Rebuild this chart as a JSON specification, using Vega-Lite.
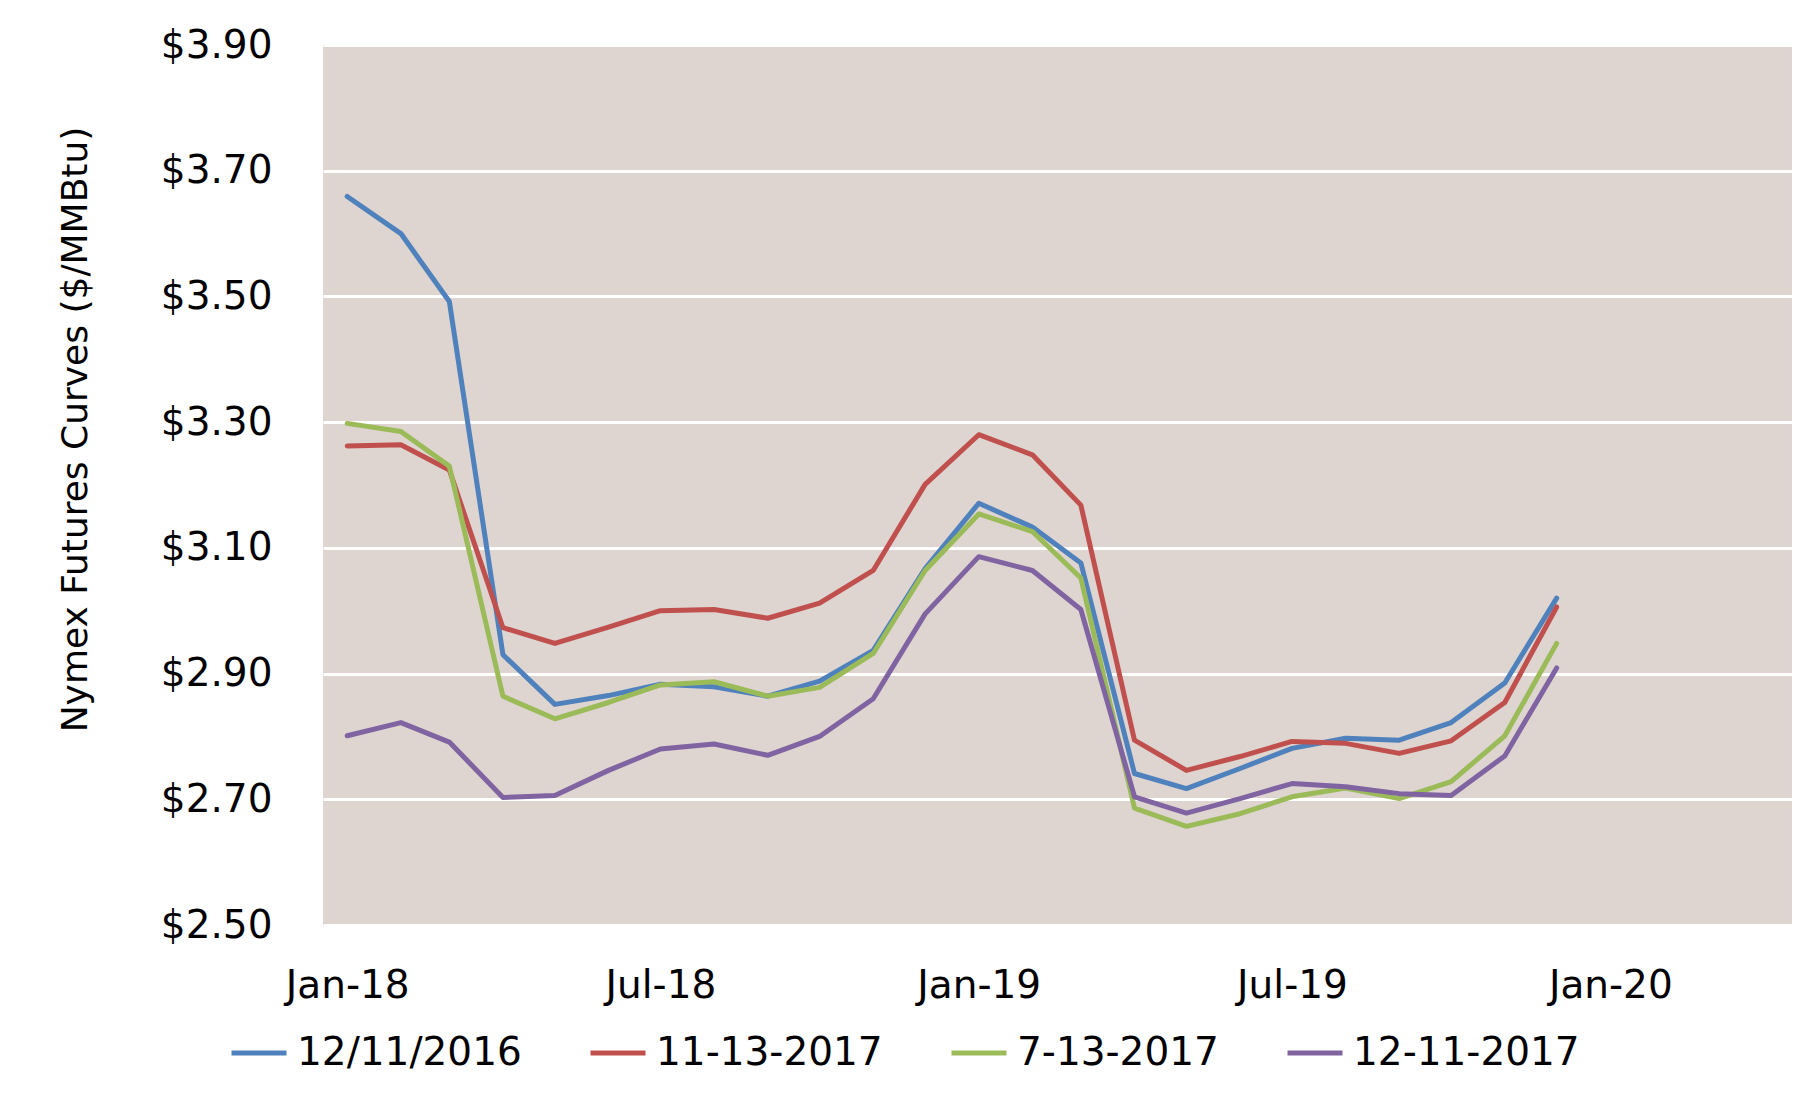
{
  "$schema": "https://vega.github.io/schema/vega-lite/v6.json",
  "width": 1469,
  "height": 880,
  "autosize": "none",
  "padding": {"left": 323, "top": 45, "right": 22, "bottom": 168},
  "background": "white",
  "config": {
    "view": {"stroke": null, "fill": "#DED4D0"},
    "font": "DejaVu Sans",
    "axis": {"labelFont": "DejaVu Sans", "titleFont": "DejaVu Sans", "labelColor": "black", "titleColor": "black"},
    "legend": {"labelFont": "DejaVu Sans", "labelColor": "black"}
  },
  "data": {"values": [
    {"date":"2018-01-01","series":"12/11/2016","price":3.659},
    {"date":"2018-02-01","series":"12/11/2016","price":3.600},
    {"date":"2018-03-01","series":"12/11/2016","price":3.492},
    {"date":"2018-04-01","series":"12/11/2016","price":2.930},
    {"date":"2018-05-01","series":"12/11/2016","price":2.851},
    {"date":"2018-06-01","series":"12/11/2016","price":2.865},
    {"date":"2018-07-01","series":"12/11/2016","price":2.883},
    {"date":"2018-08-01","series":"12/11/2016","price":2.879},
    {"date":"2018-09-01","series":"12/11/2016","price":2.864},
    {"date":"2018-10-01","series":"12/11/2016","price":2.888},
    {"date":"2018-11-01","series":"12/11/2016","price":2.937},
    {"date":"2018-12-01","series":"12/11/2016","price":3.067},
    {"date":"2019-01-01","series":"12/11/2016","price":3.171},
    {"date":"2019-02-01","series":"12/11/2016","price":3.133},
    {"date":"2019-03-01","series":"12/11/2016","price":3.076},
    {"date":"2019-04-01","series":"12/11/2016","price":2.741},
    {"date":"2019-05-01","series":"12/11/2016","price":2.717},
    {"date":"2019-06-01","series":"12/11/2016","price":2.749},
    {"date":"2019-07-01","series":"12/11/2016","price":2.781},
    {"date":"2019-08-01","series":"12/11/2016","price":2.797},
    {"date":"2019-09-01","series":"12/11/2016","price":2.794},
    {"date":"2019-10-01","series":"12/11/2016","price":2.822},
    {"date":"2019-11-01","series":"12/11/2016","price":2.885},
    {"date":"2019-12-01","series":"12/11/2016","price":3.020},
    {"date":"2018-01-01","series":"11-13-2017","price":3.262},
    {"date":"2018-02-01","series":"11-13-2017","price":3.264},
    {"date":"2018-03-01","series":"11-13-2017","price":3.224},
    {"date":"2018-04-01","series":"11-13-2017","price":2.973},
    {"date":"2018-05-01","series":"11-13-2017","price":2.948},
    {"date":"2018-06-01","series":"11-13-2017","price":2.974},
    {"date":"2018-07-01","series":"11-13-2017","price":3.000},
    {"date":"2018-08-01","series":"11-13-2017","price":3.002},
    {"date":"2018-09-01","series":"11-13-2017","price":2.988},
    {"date":"2018-10-01","series":"11-13-2017","price":3.012},
    {"date":"2018-11-01","series":"11-13-2017","price":3.064},
    {"date":"2018-12-01","series":"11-13-2017","price":3.201},
    {"date":"2019-01-01","series":"11-13-2017","price":3.280},
    {"date":"2019-02-01","series":"11-13-2017","price":3.248},
    {"date":"2019-03-01","series":"11-13-2017","price":3.168},
    {"date":"2019-04-01","series":"11-13-2017","price":2.794},
    {"date":"2019-05-01","series":"11-13-2017","price":2.746},
    {"date":"2019-06-01","series":"11-13-2017","price":2.768},
    {"date":"2019-07-01","series":"11-13-2017","price":2.792},
    {"date":"2019-08-01","series":"11-13-2017","price":2.789},
    {"date":"2019-09-01","series":"11-13-2017","price":2.773},
    {"date":"2019-10-01","series":"11-13-2017","price":2.793},
    {"date":"2019-11-01","series":"11-13-2017","price":2.854},
    {"date":"2019-12-01","series":"11-13-2017","price":3.006},
    {"date":"2018-01-01","series":"7-13-2017","price":3.298},
    {"date":"2018-02-01","series":"7-13-2017","price":3.285},
    {"date":"2018-03-01","series":"7-13-2017","price":3.230},
    {"date":"2018-04-01","series":"7-13-2017","price":2.864},
    {"date":"2018-05-01","series":"7-13-2017","price":2.828},
    {"date":"2018-06-01","series":"7-13-2017","price":2.854},
    {"date":"2018-07-01","series":"7-13-2017","price":2.882},
    {"date":"2018-08-01","series":"7-13-2017","price":2.887},
    {"date":"2018-09-01","series":"7-13-2017","price":2.864},
    {"date":"2018-10-01","series":"7-13-2017","price":2.878},
    {"date":"2018-11-01","series":"7-13-2017","price":2.932},
    {"date":"2018-12-01","series":"7-13-2017","price":3.064},
    {"date":"2019-01-01","series":"7-13-2017","price":3.154},
    {"date":"2019-02-01","series":"7-13-2017","price":3.126},
    {"date":"2019-03-01","series":"7-13-2017","price":3.052},
    {"date":"2019-04-01","series":"7-13-2017","price":2.686},
    {"date":"2019-05-01","series":"7-13-2017","price":2.657},
    {"date":"2019-06-01","series":"7-13-2017","price":2.677},
    {"date":"2019-07-01","series":"7-13-2017","price":2.704},
    {"date":"2019-08-01","series":"7-13-2017","price":2.718},
    {"date":"2019-09-01","series":"7-13-2017","price":2.701},
    {"date":"2019-10-01","series":"7-13-2017","price":2.728},
    {"date":"2019-11-01","series":"7-13-2017","price":2.801},
    {"date":"2019-12-01","series":"7-13-2017","price":2.948},
    {"date":"2018-01-01","series":"12-11-2017","price":2.801},
    {"date":"2018-02-01","series":"12-11-2017","price":2.822},
    {"date":"2018-03-01","series":"12-11-2017","price":2.791},
    {"date":"2018-04-01","series":"12-11-2017","price":2.703},
    {"date":"2018-05-01","series":"12-11-2017","price":2.706},
    {"date":"2018-06-01","series":"12-11-2017","price":2.746},
    {"date":"2018-07-01","series":"12-11-2017","price":2.780},
    {"date":"2018-08-01","series":"12-11-2017","price":2.788},
    {"date":"2018-09-01","series":"12-11-2017","price":2.770},
    {"date":"2018-10-01","series":"12-11-2017","price":2.800},
    {"date":"2018-11-01","series":"12-11-2017","price":2.860},
    {"date":"2018-12-01","series":"12-11-2017","price":2.995},
    {"date":"2019-01-01","series":"12-11-2017","price":3.086},
    {"date":"2019-02-01","series":"12-11-2017","price":3.064},
    {"date":"2019-03-01","series":"12-11-2017","price":3.002},
    {"date":"2019-04-01","series":"12-11-2017","price":2.704},
    {"date":"2019-05-01","series":"12-11-2017","price":2.678},
    {"date":"2019-06-01","series":"12-11-2017","price":2.701},
    {"date":"2019-07-01","series":"12-11-2017","price":2.725},
    {"date":"2019-08-01","series":"12-11-2017","price":2.720},
    {"date":"2019-09-01","series":"12-11-2017","price":2.709},
    {"date":"2019-10-01","series":"12-11-2017","price":2.706},
    {"date":"2019-11-01","series":"12-11-2017","price":2.769},
    {"date":"2019-12-01","series":"12-11-2017","price":2.909}
  ]},
  "mark": {"type": "line", "strokeWidth": 5, "strokeJoin": "round", "strokeCap": "round"},
  "encoding": {
    "x": {
      "field": "date",
      "type": "temporal",
      "scale": {
        "type": "utc",
        "domain": [
          {"year": 2017, "month": 12, "date": 18, "utc": true},
          {"year": 2020, "month": 4, "date": 15, "utc": true}
        ]
      },
      "axis": {
        "title": null,
        "grid": false,
        "domain": false,
        "ticks": false,
        "tickSize": 0,
        "values": [
          {"year": 2018, "month": 1, "date": 1, "utc": true},
          {"year": 2018, "month": 7, "date": 1, "utc": true},
          {"year": 2019, "month": 1, "date": 1, "utc": true},
          {"year": 2019, "month": 7, "date": 1, "utc": true},
          {"year": 2020, "month": 1, "date": 1, "utc": true}
        ],
        "format": "%b-%y",
        "labelFontSize": 39,
        "labelPadding": 41,
        "labelFlush": false,
        "labelOverlap": false
      }
    },
    "y": {
      "field": "price",
      "type": "quantitative",
      "scale": {"domain": [2.5, 3.9], "nice": false, "zero": false},
      "axis": {
        "title": "Nymex Futures Curves ($/MMBtu)",
        "titleFontSize": 36,
        "titleFontWeight": "normal",
        "titleAngle": -90,
        "titleAlign": "center",
        "titleBaseline": "middle",
        "titleX": -248,
        "titleY": 384,
        "values": [2.5, 2.7, 2.9, 3.1, 3.3, 3.5, 3.7, 3.9],
        "format": "$.2f",
        "grid": true,
        "gridColor": "white",
        "gridWidth": 3,
        "gridOpacity": 1,
        "domain": false,
        "ticks": false,
        "tickSize": 0,
        "labelFontSize": 39,
        "labelPadding": 51,
        "labelFlush": false,
        "labelOverlap": false
      }
    },
    "color": {
      "field": "series",
      "type": "nominal",
      "scale": {
        "domain": ["12/11/2016", "11-13-2017", "7-13-2017", "12-11-2017"],
        "range": ["#4F81BD", "#C0504D", "#9BBB59", "#8064A2"]
      },
      "legend": {
        "title": null,
        "orient": "none",
        "direction": "horizontal",
        "legendX": -94,
        "legendY": 978,
        "symbolType": "stroke",
        "symbolSize": 3025,
        "symbolStrokeWidth": 5,
        "labelFontSize": 39,
        "labelOffset": 8,
        "columnPadding": 58,
        "labelLimit": 400
      }
    }
  }
}
